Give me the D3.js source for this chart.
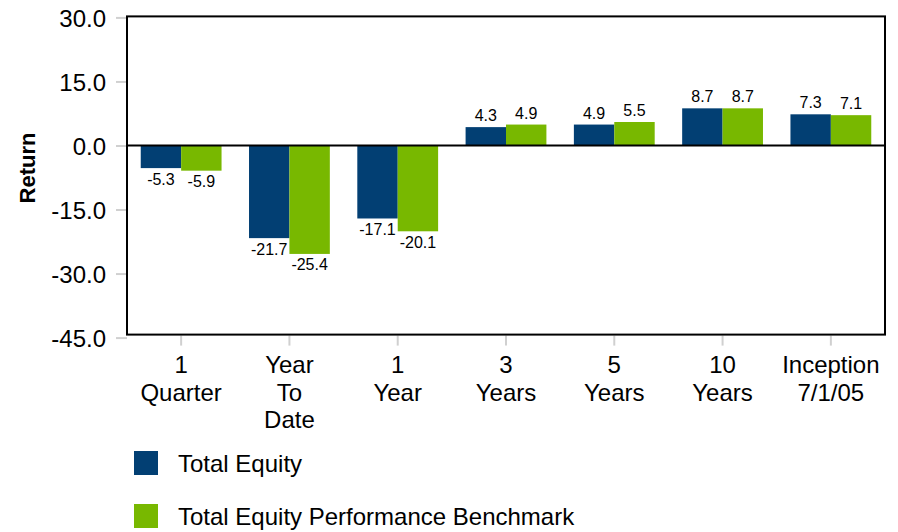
<!DOCTYPE html>
<html>
<head>
<meta charset="utf-8">
<script src="https://cdn.jsdelivr.net/npm/d3@7"></script>
<style>
  html, body { margin: 0; padding: 0; background: #fff; }
  svg { display: block; font-family: Arial, "Liberation Sans", sans-serif; }
</style>
</head>
<body>
<svg id="chart" width="898" height="532"></svg>
<script>
const categories = ["1 Quarter", "Year To Date", "1 Year", "3 Years", "5 Years", "10 Years", "Inception 7/1/05"];
const categoryLines = [["1", "Quarter"], ["Year", "To", "Date"], ["1", "Year"], ["3", "Years"], ["5", "Years"], ["10", "Years"], ["Inception", "7/1/05"]];
const seriesNames = ["Total Equity", "Total Equity Performance Benchmark"];
const totalEquity = [-5.3, -21.7, -17.1, 4.3, 4.9, 8.7, 7.3];
const benchmark = [-5.9, -25.4, -20.1, 4.9, 5.5, 8.7, 7.1];
const yTicks = [-45, -30, -15, 0, 15, 30];
const colors = ["#023F73", "#78B800"];

const fmt = v => v.toFixed(1);

const svg = d3.select("#chart");
const plotLeft = 127, plotRight = 885, plotTop = 17.4, plotBottom = 337.6;

const y = d3.scaleLinear().domain([-45, 30]).range([plotBottom, plotTop]);
const x0 = d3.scaleBand().domain(categories).range([plotLeft, plotRight]).padding(0);
const x1 = d3.scaleBand().domain(seriesNames).range([0, x0.bandwidth()]).paddingInner(0).paddingOuter(0.34);

const values = [totalEquity, benchmark];
const data = categories.map((c, i) => ({ cat: c, vals: seriesNames.map((s, j) => ({ s, j, v: values[j][i] })) }));

// Y axis ticks (gray marks outside)
const yAxis = d3.axisLeft(y).tickValues(yTicks).tickSize(11).tickPadding(10).tickFormat(fmt);
const gy = svg.append("g").attr("transform", `translate(${plotLeft},0)`).call(yAxis);
gy.select(".domain").remove();
gy.selectAll(".tick line").attr("stroke", "#d0d0d0").attr("stroke-width", 2);
gy.selectAll(".tick text").attr("font-size", 24).attr("fill", "#000")
  .attr("font-family", 'Arial, "Liberation Sans", sans-serif').attr("dy", "0.36em");

// X axis
const frameBottom = y(-45) - 3;
const xAxis = d3.axisBottom(x0).tickSize(10).tickFormat("");
const gx = svg.append("g").attr("transform", `translate(0,${frameBottom + 1})`).call(xAxis);
gx.select(".domain").remove();
gx.selectAll(".tick line").attr("stroke", "#d0d0d0").attr("stroke-width", 2);

const lab = svg.append("g").attr("font-size", 24).attr("fill", "#000").attr("text-anchor", "middle");
categories.forEach((c, i) => {
  const t = lab.append("text").attr("x", x0(c) + x0.bandwidth() / 2).attr("y", 373);
  categoryLines[i].forEach((ln, k) => {
    t.append("tspan").attr("x", x0(c) + x0.bandwidth() / 2).attr("y", 373 + k * 27.5).text(ln);
  });
});

// Bars
const groups = svg.append("g").selectAll("g").data(data).join("g")
  .attr("transform", d => `translate(${x0(d.cat)},0)`);
groups.selectAll("rect").data(d => d.vals).join("rect")
  .attr("x", d => x1(d.s))
  .attr("width", x1.bandwidth())
  .attr("y", d => Math.min(y(0), y(d.v)))
  .attr("height", d => Math.abs(y(d.v) - y(0)))
  .attr("fill", d => colors[d.j]);

// Value labels
groups.selectAll("text").data(d => d.vals).join("text")
  .attr("x", d => x1(d.s) + x1.bandwidth() / 2)
  .attr("y", d => d.v >= 0 ? y(d.v) - 6 : y(d.v) + 16.5)
  .attr("text-anchor", "middle")
  .attr("font-size", 16)
  .attr("fill", "#000")
  .text(d => fmt(d.v));

// Zero line
svg.append("line").attr("x1", plotLeft).attr("x2", plotRight).attr("y1", y(0)).attr("y2", y(0))
  .attr("stroke", "#000").attr("stroke-width", 2);

// Frame
svg.append("rect").attr("x", plotLeft).attr("y", y(30) - 1).attr("width", plotRight - plotLeft)
  .attr("height", frameBottom - (y(30) - 1)).attr("fill", "none").attr("stroke", "#000").attr("stroke-width", 2);

// Y title
svg.append("text").attr("transform", "translate(35,168) rotate(-90)")
  .attr("text-anchor", "middle").attr("font-size", 22).attr("font-weight", "bold").attr("fill", "#000")
  .text("Return");

// Legend
const legend = svg.append("g").selectAll("g").data(seriesNames).join("g")
  .attr("transform", (d, i) => `translate(134,${451 + i * 53})`);
legend.append("rect").attr("width", 24).attr("height", 24).attr("fill", (d, i) => colors[i]);
legend.append("text").attr("x", 44).attr("y", 21).attr("font-size", 24).attr("fill", "#000").text(d => d);
</script>
</body>
</html>
